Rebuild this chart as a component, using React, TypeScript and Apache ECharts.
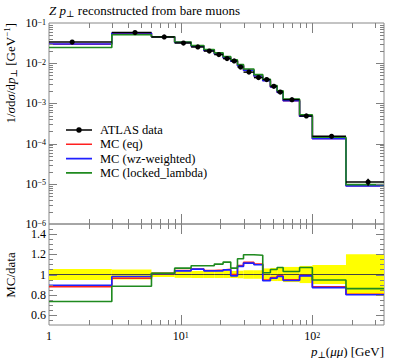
import React, { useEffect, useRef } from "react";
import * as echarts from "echarts";

const FONT = "'Liberation Serif', 'DejaVu Serif', serif";
const X_MIN = 1;
const X_MAX = 350;
const Y_MIN = 1e-6;
const Y_MAX = 1e-1;
const R_MIN = 0.5;
const R_MAX = 1.5;

// Bin edges of p_T(mumu) [GeV]
const binEdges = [0, 3, 6, 9, 12, 15, 18, 21, 24, 27, 30, 36, 42, 48, 54, 60, 80, 100, 180, 350];
// ATLAS data 1/sigma dsigma/dpT [GeV^-1]
const atlasData = [
  0.0336, 0.0577, 0.0449, 0.0318, 0.0253, 0.0201, 0.0164, 0.013, 0.01135, 0.00804,
  0.006, 0.00438, 0.00391, 0.00266, 0.00192, 0.00124, 0.000486, 0.000152, 0.0000111,
];
// relative data uncertainty (yellow band)
const atlasRelErr = [
  0.055, 0.05, 0.025, 0.033, 0.035, 0.035, 0.035, 0.035, 0.035, 0.038,
  0.042, 0.042, 0.06, 0.065, 0.065, 0.075, 0.085, 0.095, 0.2,
];
// MC / data ratios
const ratioEq = [
  0.88, 0.963, 1.01, 1.04, 1.055, 1.04, 1.045, 1.052, 1.0, 1.088,
  1.12, 1.103, 0.946, 0.97, 0.986, 0.948, 0.99, 0.878, 0.805,
];
const ratioWz = [
  0.893, 0.98, 1.01, 1.036, 1.053, 1.036, 1.036, 1.046, 0.986, 1.08,
  1.113, 1.096, 0.938, 0.963, 0.98, 0.94, 0.986, 0.87, 0.8,
];
const ratioLocked = [
  0.733, 0.883, 1.013, 1.063, 1.086, 1.086, 1.103, 1.123, 1.063, 1.156,
  1.196, 1.19, 1.017, 1.05, 1.07, 1.03, 1.07, 0.945, 0.86,
];
const ratioTickLabels = ["0.6", "0.8", "1", "1.2", "1.4"];
const legendNames = ["ATLAS data", "MC (eq)", "MC (wz-weighted)", "MC (locked_lambda)"];

const COL_EQ = "#ff2020";
const COL_WZ = "#2020ff";
const COL_LOCKED = "#1f8a1f";
const TICK_COLOR = "#808080";

// legend icons (line, and line with marker), with invisible corner points fixing the 26x10 box
const ICON_LINE = "path://M0 0L0.01 0L0.01 0.01Z M0 4.2L26 4.2L26 5.8L0 5.8Z M26 10L25.99 10L25.99 9.99Z";
const ICON_DATA =
  "path://M0 0L0.01 0L0.01 0.01Z M0 4.3L26 4.3L26 5.7L0 5.7Z M13 2.2A2.8 2.8 0 1 1 12.99 2.2Z M26 10L25.99 10L25.99 9.99Z";

function stepPoints(vals: number[]) {
  const pts: number[][] = [];
  vals.forEach((v, i) => {
    pts.push([Math.max(binEdges[i], X_MIN), v]);
    pts.push([binEdges[i + 1], v]);
  });
  return pts;
}

function xTickItems(yRef: number) {
  const items: number[][] = [];
  for (let k = 0; k <= 2; k++) {
    for (let m = 1; m <= 9; m++) {
      const v = m * Math.pow(10, k);
      if (v > X_MIN && v < X_MAX) items.push([v, yRef, 0, m === 1 ? 1 : 0]);
    }
  }
  return items;
}

function topYTickItems() {
  const items: number[][] = [];
  for (let k = -6; k <= -2; k++) {
    for (let m = 1; m <= 9; m++) {
      const v = m * Math.pow(10, k);
      if (v > Y_MIN * 1.0001) items.push([10, v, 1, m === 1 ? 1 : 0]);
    }
  }
  return items;
}

function ratioYTickItems() {
  const items: number[][] = [];
  for (let j = 11; j <= 29; j++) {
    items.push([10, j * 0.05, 1, j % 4 === 0 ? 1 : 0]);
  }
  return items;
}

const tickRender = (params: any, api: any) => {
  const cs = params.coordSys;
  const p = api.coord([api.value(0), api.value(1)]);
  const which = api.value(2);
  const major = api.value(3) === 1;
  const style = { stroke: TICK_COLOR, lineWidth: 1 };
  if (which === 0) {
    const len = major ? 10 : 5;
    const x = Math.round(p[0]) + 0.5;
    return {
      type: "group",
      children: [
        { type: "line", shape: { x1: x, y1: cs.y, x2: x, y2: cs.y + len }, style },
        { type: "line", shape: { x1: x, y1: cs.y + cs.height, x2: x, y2: cs.y + cs.height - len }, style },
      ],
    };
  }
  const len = major ? 8 : 4;
  const y = Math.round(p[1]) + 0.5;
  return {
    type: "group",
    children: [
      { type: "line", shape: { x1: cs.x, y1: y, x2: cs.x + len, y2: y }, style },
      { type: "line", shape: { x1: cs.x + cs.width, y1: y, x2: cs.x + cs.width - len, y2: y }, style },
    ],
  };
};

const dataRender = (params: any, api: any) => {
  const xc = api.value(0);
  const v = api.value(1);
  const lo = api.value(2);
  const hi = api.value(3);
  const e = api.value(4);
  const c = api.coord([xc, v]);
  const l = api.coord([lo, v]);
  const r = api.coord([hi, v]);
  const up = api.coord([xc, v * (1 + e)]);
  const dn = api.coord([xc, v * (1 - e)]);
  const style = { stroke: "#000", lineWidth: 1.5 };
  return {
    type: "group",
    children: [
      { type: "line", shape: { x1: l[0], y1: c[1], x2: r[0], y2: c[1] }, style },
      { type: "line", shape: { x1: c[0], y1: up[1], x2: c[0], y2: dn[1] }, style },
      { type: "circle", shape: { cx: c[0], cy: c[1], r: 2.6 }, style: { fill: "#000" } },
    ],
  };
};

const bandRender = (params: any, api: any) => {
  const lo = api.value(0);
  const hi = api.value(2);
  const e = api.value(3);
  const a = api.coord([lo, 1 + e]);
  const b = api.coord([hi, 1 - e]);
  return {
    type: "rect",
    shape: { x: a[0], y: a[1], width: b[0] - a[0], height: b[1] - a[1] },
    style: { fill: "#ffff00" },
  };
};

const richBase = {
  n: { fontFamily: FONT, fontSize: 13, lineHeight: 16, verticalAlign: "middle", color: "#000" },
  i: { fontFamily: FONT, fontSize: 13, lineHeight: 16, verticalAlign: "middle", fontStyle: "italic", color: "#000" },
  sub: { fontFamily: FONT, fontSize: 9, lineHeight: 16, verticalAlign: "bottom", color: "#000" },
  sup: { fontFamily: FONT, fontSize: 9, lineHeight: 16, verticalAlign: "top", color: "#000" },
};

const tickRich = {
  b: { fontFamily: FONT, fontSize: 12, lineHeight: 10, verticalAlign: "middle", color: "#000" },
  s: { fontFamily: FONT, fontSize: 8, lineHeight: 10, verticalAlign: "top", color: "#000" },
};

export default function App() {
  const ref = useRef<HTMLDivElement>(null);
  useEffect(() => {
    document.body.style.margin = "0";
    if (!ref.current) return;
    const chart = echarts.init(ref.current, undefined, { renderer: "svg" });

    const mcTop = (ratio: number[]) => atlasData.map((d, i) => d * ratio[i]);
    const dataItems = atlasData.map((v, i) => [
      (binEdges[i] + binEdges[i + 1]) / 2,
      v,
      Math.max(binEdges[i], X_MIN),
      binEdges[i + 1],
      atlasRelErr[i],
    ]);
    const bandItems = atlasRelErr.map((e, i) => [Math.max(binEdges[i], X_MIN), 1, binEdges[i + 1], e]);
    const ones = atlasData.map(() => 1);

    const lineSeries = (name: string, color: string, data: number[][], idx: number, z: number) => ({
      type: "line",
      name,
      xAxisIndex: idx,
      yAxisIndex: idx,
      data,
      symbol: "none",
      showSymbol: false,
      lineStyle: { color, width: 1.6 },
      itemStyle: { color },
      z,
      silent: true,
    });

    const xAxisBase = {
      type: "log",
      logBase: 10,
      min: X_MIN,
      max: X_MAX,
      axisLine: { show: false },
      axisTick: { show: false },
      splitLine: { show: false },
    };

    chart.setOption({
      animation: false,
      grid: [
        { left: 49, top: 23, width: 335, height: 201, show: true, borderColor: "#888", borderWidth: 1, backgroundColor: "transparent" },
        { left: 49, top: 224, width: 335, height: 101, show: true, borderColor: "#888", borderWidth: 1, backgroundColor: "transparent" },
      ],
      xAxis: [
        { ...xAxisBase, gridIndex: 0, axisLabel: { show: false } },
        {
          ...xAxisBase,
          gridIndex: 1,
          axisLabel: {
            show: true,
            margin: 6,
            showMaxLabel: false,
            formatter: (v: number) => {
              const e = Math.log10(v);
              const r = Math.round(e);
              if (Math.abs(e - r) > 1e-6) return "";
              if (r === 0) return "{b|1}";
              return `{b|10}{s|${r}}`;
            },
            rich: tickRich,
          },
        },
      ],
      yAxis: [
        {
          type: "log",
          logBase: 10,
          gridIndex: 0,
          min: Y_MIN,
          max: Y_MAX,
          axisLine: { show: false },
          axisTick: { show: false },
          splitLine: { show: false },
          axisLabel: {
            margin: 3,
            formatter: (v: number) => {
              const e = Math.round(Math.log10(v));
              return `{b|10}{s|${e < 0 ? "\u2212" : ""}${Math.abs(e)}}`;
            },
            rich: tickRich,
          },
        },
        {
          type: "value",
          gridIndex: 1,
          min: R_MIN,
          max: R_MAX,
          interval: 0.1,
          axisLine: { show: false },
          axisTick: { show: false },
          splitLine: { show: false },
          axisLabel: {
            margin: 3,
            formatter: (v: number) => {
              const r = Math.round(v * 10);
              const idx = [6, 8, 10, 12, 14].indexOf(r);
              return idx >= 0 ? `{b|${ratioTickLabels[idx]}}` : "";
            },
            rich: tickRich,
          },
        },
      ],
      legend: {
        left: 66,
        top: 123,
        orient: "vertical",
        padding: 0,
        itemWidth: 26,
        itemHeight: 10,
        itemGap: 0.3,
        data: legendNames.map((n, i) => ({ name: n, icon: i === 0 ? ICON_DATA : ICON_LINE })),
        textStyle: { fontFamily: FONT, fontSize: 12.5, color: "#000", lineHeight: 14, padding: [0, 0, 0, 3] },
        selectedMode: false,
      },
      graphic: [
        {
          type: "text",
          x: 49,
          y: 10,
          style: {
            text: "{i|Z} {i|p}{sub|\u22a5} {n|reconstructed from bare muons}",
            rich: richBase,
            align: "left",
            verticalAlign: "middle",
          },
        },
        {
          type: "text",
          x: 10,
          y: 23,
          rotation: Math.PI / 2,
          style: {
            text: "{n|1/}{i|\u03c3}{n|d}{i|\u03c3}{n|/d}{i|p}{sub|\u22a5}{n| [GeV}{sup|\u22121}{n|]}",
            rich: richBase,
            align: "right",
            verticalAlign: "middle",
          },
        },
        {
          type: "text",
          x: 10,
          y: 275,
          rotation: Math.PI / 2,
          style: {
            text: "{n|MC/data}",
            rich: richBase,
            align: "center",
            verticalAlign: "middle",
          },
        },
        {
          type: "text",
          x: 384,
          y: 351,
          style: {
            text: "{i|p}{sub|\u22a5}{n|(}{i|\u03bc\u03bc}{n|) [GeV]}",
            rich: richBase,
            align: "right",
            verticalAlign: "middle",
          },
        },
      ],
      series: [
        // legend proxy for data
        {
          type: "line",
          name: "ATLAS data",
          xAxisIndex: 0,
          yAxisIndex: 0,
          data: [],
          symbol: "circle",
          symbolSize: 6,
          lineStyle: { color: "#000", width: 1.5 },
          itemStyle: { color: "#000" },
        },
        lineSeries("MC (eq)", COL_EQ, stepPoints(mcTop(ratioEq)), 0, 3),
        lineSeries("MC (wz-weighted)", COL_WZ, stepPoints(mcTop(ratioWz)), 0, 3),
        lineSeries("MC (locked_lambda)", COL_LOCKED, stepPoints(mcTop(ratioLocked)), 0, 3),
        {
          type: "custom",
          name: "data points",
          xAxisIndex: 0,
          yAxisIndex: 0,
          data: dataItems,
          renderItem: dataRender,
          encode: { x: 0, y: 1 },
          z: 5,
          silent: true,
        },
        {
          type: "custom",
          name: "ticks top",
          xAxisIndex: 0,
          yAxisIndex: 0,
          data: [...xTickItems(1e-3), ...topYTickItems()],
          renderItem: tickRender,
          encode: { x: 0, y: 1 },
          z: 6,
          silent: true,
        },
        // ratio panel
        {
          type: "custom",
          name: "band",
          xAxisIndex: 1,
          yAxisIndex: 1,
          data: bandItems,
          renderItem: bandRender,
          encode: { x: 0, y: 1 },
          z: 1,
          silent: true,
        },
        {
          type: "line",
          name: "data ratio",
          xAxisIndex: 1,
          yAxisIndex: 1,
          data: stepPoints(ones),
          symbol: "none",
          lineStyle: { color: "#444", width: 1 },
          z: 2,
          silent: true,
        },
        lineSeries("MC (eq)", COL_EQ, stepPoints(ratioEq), 1, 3),
        lineSeries("MC (wz-weighted)", COL_WZ, stepPoints(ratioWz), 1, 3),
        lineSeries("MC (locked_lambda)", COL_LOCKED, stepPoints(ratioLocked), 1, 3),
        {
          type: "custom",
          name: "ticks ratio",
          xAxisIndex: 1,
          yAxisIndex: 1,
          data: [...xTickItems(1), ...ratioYTickItems()],
          renderItem: tickRender,
          encode: { x: 0, y: 1 },
          z: 6,
          silent: true,
        },
      ],
    });
    return () => chart.dispose();
  }, []);
  return (
    <div
      ref={ref}
      style={{ position: "absolute", left: 0, top: 0, width: 397, height: 358, background: "#fff" }}
    />
  );
}
